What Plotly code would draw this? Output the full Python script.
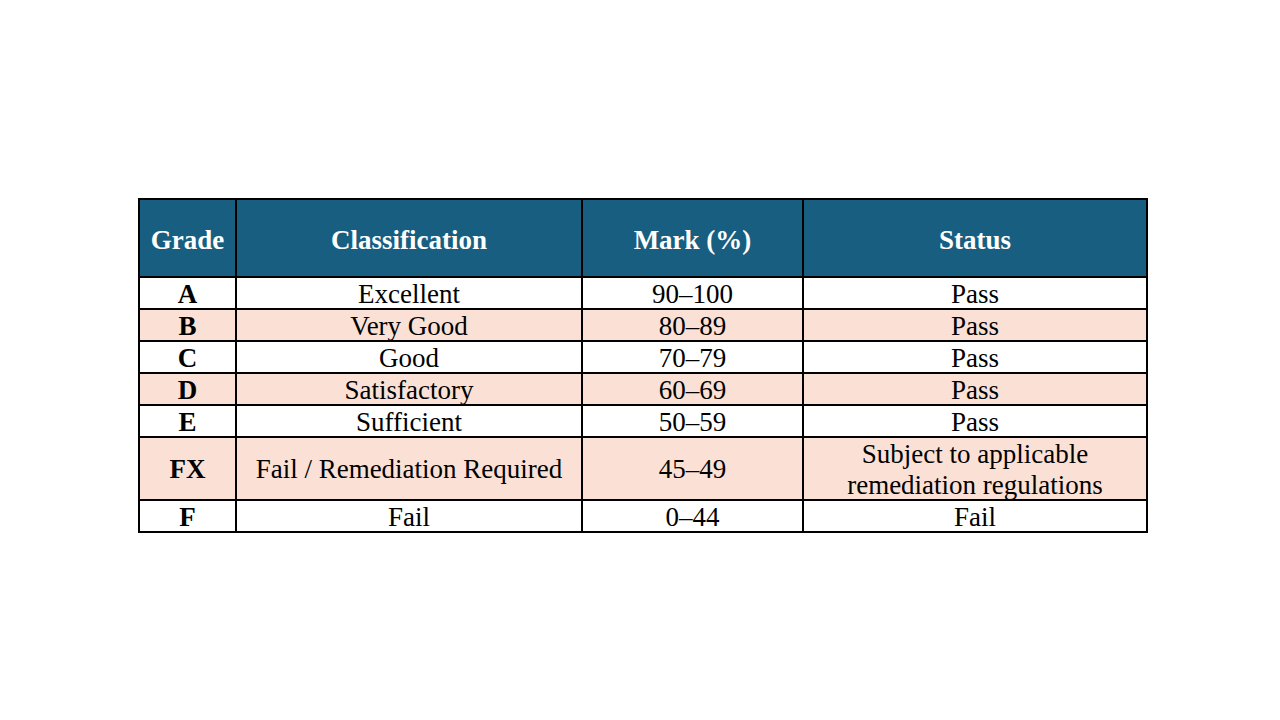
import plotly.graph_objects as go

# table contents
headers = ['Grade', 'Classification', 'Mark (%)', 'Status']
grades = ['A', 'B', 'C', 'D', 'E', 'FX', 'F']
classifications = ['Excellent', 'Very Good', 'Good', 'Satisfactory', 'Sufficient',
                   'Fail / Remediation Required', 'Fail']
marks = ['90–100', '80–89', '70–79', '60–69', '50–59', '45–49', '0–44']
statuses = ['Pass', 'Pass', 'Pass', 'Pass', 'Pass',
            'Subject to applicable<br>remediation regulations', 'Fail']

# layout sizes in pixels
col_widths = [97, 346, 221, 344]
header_h = 78
row_h = 32
line_h = 31  # spacing of the two-line cell
text_shift = 3  # nudge text down a little inside each cell
left, top = 130, 190  # page body adds 8px on each side

blue = '#185E80'
peach = '#FBE1D5'
font = 'Liberation Serif'

columns = [grades, classifications, marks, statuses]
n_rows = len(grades)
row_heights = [header_h] + [row_h * s.count('<br>') + row_h - s.count('<br>') for s in statuses]

# cell edges from the sizes
x_edges = [0]
for w in col_widths:
    x_edges.append(x_edges[-1] + w)
y_edges = [0]
for h in row_heights:
    y_edges.append(y_edges[-1] + h)

# background colours: 2 = header, 1 = peach band, 0 = white
z = [[2] * len(headers)] + [[i % 2] * len(headers) for i in range(n_rows)]

fig = go.Figure()
fig.add_trace(go.Heatmap(
    x=x_edges, y=y_edges, z=z, zmin=0, zmax=2,
    colorscale=[[0, 'white'], [0.33, 'white'], [0.33, peach], [0.67, peach],
                [0.67, blue], [1, blue]],
    showscale=False, xgap=2, ygap=2, hoverinfo='skip'))

# cell texts, one line per point
tx, ty, tt, tc = [], [], [], []
for c, name in enumerate(headers):
    xc = (x_edges[c] + x_edges[c + 1]) / 2
    tx.append(xc)
    ty.append(header_h / 2 + text_shift + 1)
    tt.append('<b>%s</b>' % name)
    tc.append('white')
    for r in range(n_rows):
        yc = (y_edges[r + 1] + y_edges[r + 2]) / 2 + text_shift
        lines = columns[c][r].split('<br>')
        for k, line in enumerate(lines):
            tx.append(xc)
            ty.append(yc + (k - (len(lines) - 1) / 2) * line_h)
            tt.append('<b>%s</b>' % line if c == 0 else line)
            tc.append('black')

fig.add_trace(go.Scatter(
    x=tx, y=ty, text=tt, mode='text', textposition='middle center',
    textfont=dict(family=font, size=27, color=tc), hoverinfo='skip', showlegend=False))

total_w = x_edges[-1]
total_h = y_edges[-1]
fig.update_xaxes(range=[-1, total_w + 1], visible=False, fixedrange=True)
fig.update_yaxes(range=[total_h + 1, -1], visible=False, fixedrange=True)
fig.update_layout(width=1280, height=720,
                  margin=dict(l=left, r=1280 - left - total_w - 2, t=top, b=720 - top - total_h - 2),
                  plot_bgcolor='black', paper_bgcolor='white', showlegend=False)
fig.write_html('out.html')
